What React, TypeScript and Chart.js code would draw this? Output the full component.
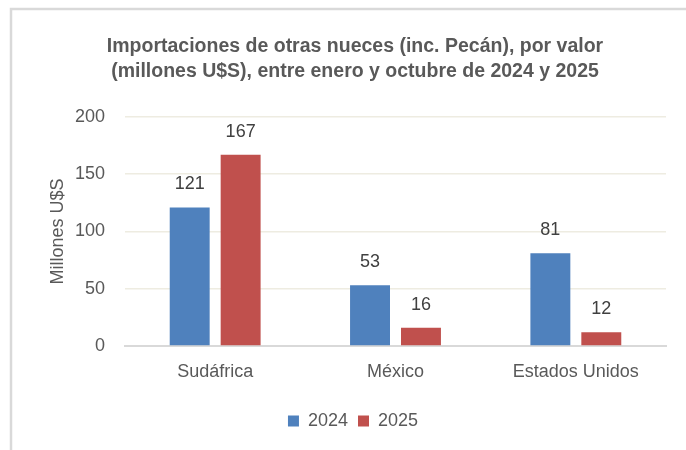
import React, { useEffect, useRef } from "react";
import { Chart, registerables } from "chart.js";

Chart.register(...registerables);

const categories = ["Sudáfrica", "México", "Estados Unidos"];
const values2024 = [121, 53, 81];
const values2025 = [167, 16, 12];
const seriesLabels = ["2024", "2025"];
const yTicks = [0, 50, 100, 150, 200];
const titleLines = [
  "Importaciones de otras nueces (inc. Pecán), por valor",
  "(millones U$S), entre enero y octubre de 2024 y 2025",
];
const yAxisTitle = "Millones U$S";

const FONT = '"Liberation Sans", Arial, sans-serif';
const SIZE = 18;

const framePlugin = {
  id: "frame",
  afterLayout(chart: any) {
    if (chart.titleBlock) chart.titleBlock.left += 44;
    if (chart.legend) chart.legend.left += 40;
  },
  beforeDraw(chart: any) {
    const ctx = chart.ctx;
    ctx.save();
    ctx.fillStyle = "#ffffff";
    ctx.fillRect(0, 0, chart.width, chart.height);
    ctx.strokeStyle = "#D9D9D9";
    ctx.lineWidth = 2.5;
    ctx.beginPath();
    ctx.moveTo(11, chart.height);
    ctx.lineTo(11, 9);
    ctx.lineTo(chart.width, 9);
    ctx.stroke();
    ctx.restore();
  },
};

const dataLabelPlugin = {
  id: "dataLabels",
  afterDatasetsDraw(chart: any) {
    const ctx = chart.ctx;
    ctx.save();
    ctx.font = `${SIZE}px ${FONT}`;
    ctx.fillStyle = "#404040";
    ctx.textAlign = "center";
    ctx.textBaseline = "middle";
    chart.data.datasets.forEach((ds: any, i: number) => {
      const meta = chart.getDatasetMeta(i);
      meta.data.forEach((bar: any, j: number) => {
        ctx.fillText(String(ds.data[j]), bar.x, bar.y - 23);
      });
    });
    ctx.restore();
  },
};

export default function App() {
  const ref = useRef<HTMLCanvasElement>(null);
  useEffect(() => {
    if (!ref.current) return;
    const chart = new Chart(ref.current, {
      type: "bar",
      data: {
        labels: categories,
        datasets: [
          { label: seriesLabels[0], data: values2024, backgroundColor: "#4F81BD" },
          { label: seriesLabels[1], data: values2025, backgroundColor: "#C0504D" },
        ],
      },
      options: {
        responsive: false,
        animation: false,
        layout: { padding: { left: 0, right: 20, top: 0, bottom: 10 } },
        datasets: {
          bar: { categoryPercentage: 0.565, barPercentage: 0.784 },
        } as any,
        plugins: {
          title: {
            display: true,
            text: titleLines,
            color: "#595959",
            font: { family: FONT, size: 19.5, weight: "bold", lineHeight: 1.28 },
            padding: { top: 34, bottom: 33 },
          },
          legend: {
            position: "bottom",
            labels: {
              color: "#595959",
              font: { family: FONT, size: SIZE },
              boxWidth: 11,
              boxHeight: 11,
              padding: 10,
            },
          },
          tooltip: { enabled: false },
        },
        scales: {
          x: {
            grid: { display: false, drawTicks: false },
            border: { color: "#D9D9D9", width: 2 },
            ticks: { color: "#595959", font: { family: FONT, size: SIZE }, padding: 15 },
            afterFit(scale: any) {
              scale.height = 56;
            },
          },
          y: {
            min: 0,
            max: 200,
            afterBuildTicks(scale: any) {
              scale.ticks = yTicks.map((v) => ({ value: v }));
            },
            grid: { color: "#EEECE1", lineWidth: 1.5, drawTicks: false },
            border: { display: false },
            ticks: { color: "#595959", font: { family: FONT, size: SIZE }, padding: 20 },
            title: {
              display: true,
              text: yAxisTitle,
              color: "#595959",
              font: { family: FONT, size: SIZE },
              padding: { top: 47, bottom: 0 },
            },
            afterFit(scale: any) {
              scale.width = 125;
            },
          },
        },
      },
      plugins: [framePlugin, dataLabelPlugin],
    });
    return () => chart.destroy();
  }, []);

  return (
    <div style={{ position: "fixed", inset: 0, background: "#fff", overflow: "hidden" }}>
      <canvas
        ref={ref}
        width={686}
        height={450}
        style={{ position: "absolute", left: 0, top: 0, width: 686, height: 450 }}
      />
    </div>
  );
}
